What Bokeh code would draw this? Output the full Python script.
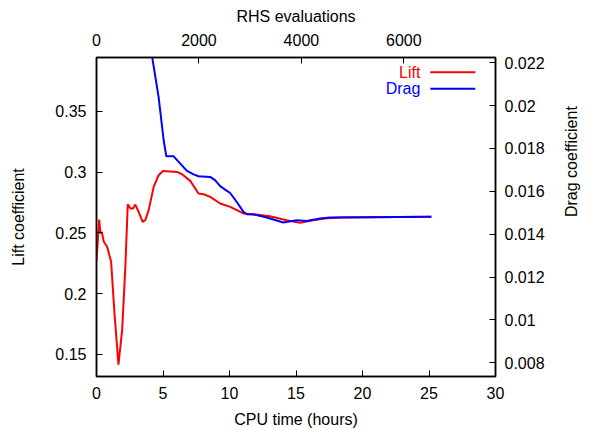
from bokeh.plotting import figure
from bokeh.models import (Range1d, LinearAxis, FixedTicker, PrintfTickFormatter,
                          Label, Arrow)
from bokeh.embed import file_html
from bokeh.resources import INLINE
import math

# ---- data ----
lift_t = [0.0, 0.2, 0.3, 0.4, 0.55, 0.8, 1.1, 1.35, 1.65, 1.93, 2.17, 2.35, 2.55,
          2.75, 2.92, 3.17, 3.47, 3.67, 3.92, 4.3, 4.67, 5.0, 6.05, 6.43, 7.05,
          7.67, 8.05, 8.55, 9.3, 10.05, 10.55, 11.05, 11.8, 13.05, 14.3, 15.3,
          16.3, 17.3, 18.55, 25.18]
lift_v = [0.226, 0.261, 0.2495, 0.2508, 0.2426, 0.2385, 0.2261, 0.184, 0.1413,
          0.170, 0.222, 0.2736, 0.270, 0.270, 0.2733, 0.2673, 0.259, 0.2604,
          0.2687, 0.2878, 0.2975, 0.301, 0.3002, 0.2983, 0.2928, 0.2824, 0.2818,
          0.2796, 0.2742, 0.2714, 0.2687, 0.266, 0.2654, 0.2637, 0.2604, 0.2582,
          0.2604, 0.2621, 0.2627, 0.2632]

drag_t = [4.15, 4.67, 5.05, 5.25, 5.8, 6.3, 6.8, 7.3, 7.67, 8.55, 8.93, 9.3, 9.67,
          10.05, 10.55, 11.05, 11.3, 11.8, 12.8, 14.05, 15.05, 15.8, 16.8, 17.55,
          25.18]
drag_v = [0.0224, 0.02039, 0.01838, 0.01763, 0.01763, 0.01729, 0.01695, 0.01679,
          0.0167, 0.01667, 0.01651, 0.01624, 0.01608, 0.01592, 0.0155, 0.01504,
          0.01493, 0.01492, 0.01478, 0.01454, 0.01465, 0.01461, 0.01473, 0.01478,
          0.01481]

x_ticks = [0, 5, 10, 15, 20, 25, 30]
rhs_ticks = [0, 2000, 4000, 6000]
lift_ticks = [0.15, 0.2, 0.25, 0.3, 0.35]
drag_ticks = [0.008, 0.01, 0.012, 0.014, 0.016, 0.018, 0.02, 0.022]

FONT = "Liberation Sans"
FS = "16px"

p = figure(width=591, height=430, output_backend="svg", toolbar_location=None,
           x_range=Range1d(0, 30), y_range=Range1d(0.1316, 0.3945),
           min_border_left=96, min_border_right=95, min_border_top=57,
           min_border_bottom=53, x_axis_location=None, y_axis_location=None)
p.extra_x_ranges = {"rhs": Range1d(0, 7790)}
p.extra_y_ranges = {"drag": Range1d(0.00736, 0.02224)}
p.xgrid.visible = False
p.ygrid.visible = False
p.outline_line_color = "black"
p.outline_line_width = 1.5
p.background_fill_color = "white"
p.border_fill_color = "white"


def style(ax, ticks, label, std, lstd):
    ax.ticker = FixedTicker(ticks=ticks)
    ax.formatter = PrintfTickFormatter(format="%g")
    ax.axis_label = label
    ax.axis_label_text_font = FONT
    ax.axis_label_text_font_size = FS
    ax.axis_label_text_font_style = "normal"
    ax.axis_label_text_color = "black"
    ax.major_label_text_font = FONT
    ax.major_label_text_font_size = FS
    ax.major_label_text_color = "black"
    ax.major_tick_in = 6
    ax.major_tick_out = 0
    ax.minor_tick_in = 0
    ax.minor_tick_out = 0
    ax.axis_line_color = "black"
    ax.axis_line_width = 1.5
    ax.major_tick_line_color = "black"
    ax.major_label_standoff = std
    ax.axis_label_standoff = lstd


bottom = LinearAxis()
style(bottom, x_ticks, "CPU time (hours)", 10, 9)
p.add_layout(bottom, "below")

top = LinearAxis(x_range_name="rhs")
style(top, rhs_ticks, "RHS evaluations", 12, 6)
p.add_layout(top, "above")

left = LinearAxis()
style(left, lift_ticks, "Lift coefficient", 10, 25)
p.add_layout(left, "left")

right = LinearAxis(y_range_name="drag")
style(right, drag_ticks, "Drag coefficient", 9, 24)
right.axis_label_orientation = math.pi / 2
p.add_layout(right, "right")

p.line(lift_t, lift_v, line_color="#ff0000", line_width=2)
p.line(drag_t, drag_v, line_color="#0000ff", line_width=2, y_range_name="drag")

# legend (gnuplot style: text then sample line)
for txt, col, ly in [("Lift", "#ff0000", 0.3824), ("Drag", "#0000ff", 0.3687)]:
    p.add_layout(Label(x=24.35, y=ly, text=txt, text_align="right",
                       text_baseline="middle", text_color=col,
                       text_font=FONT, text_font_size=FS))
    p.add_layout(Arrow(x_start=25.1, y_start=ly, x_end=28.48, y_end=ly,
                       start=None, end=None, line_color=col, line_width=2))

open("out.html", "w").write(file_html(p, INLINE))
